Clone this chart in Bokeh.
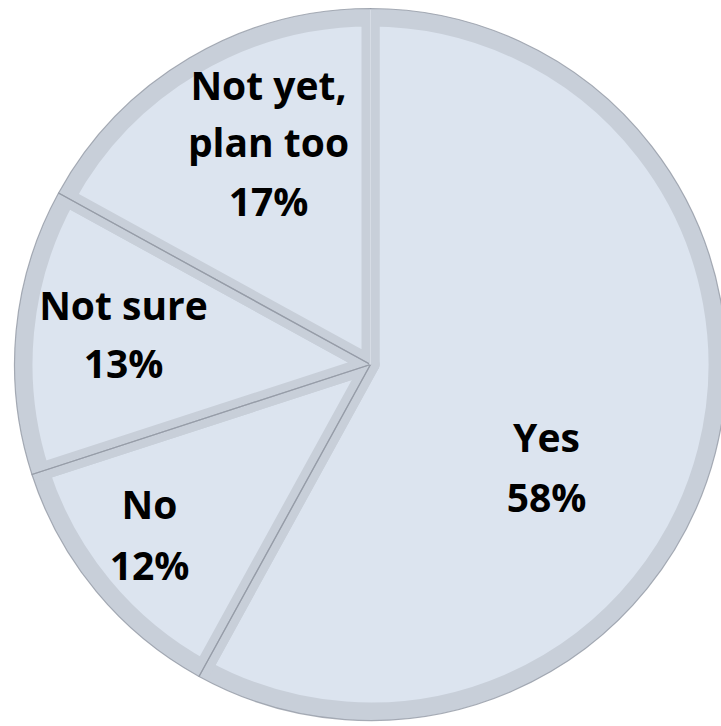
import math
from bokeh.plotting import figure
from bokeh.models import Range1d
from bokeh.core.properties import value
from bokeh.embed import file_html
from bokeh.resources import INLINE

# ---- data ----
categories = ["Yes", "No", "Not sure", "Not yet,|plan too"]
percents = [58, 12, 13, 17]

# ---- layout (pixels from top-left) ----
W, H = 721, 726
cx, cy_top = 370, 364
radius = 347
label_x = [546, 149, 123, 268]
label_baselines = [[436, 496], [503, 564], [304, 362], [84, 141, 200]]

fill_color = "#dce4ef"
border_color = "#c8cfd9"
edge_color = "#939aa5"

p = figure(width=W, height=H, x_range=Range1d(0, W), y_range=Range1d(0, H),
           output_backend="svg", toolbar_location=None, min_border=0)
p.axis.visible = False
p.grid.visible = False
p.outline_line_color = None
p.background_fill_color = "white"

cy = H - cy_top
total = float(sum(percents))
starts, ends = [], []
cum = 0.0
for v in percents:
    starts.append(math.pi / 2 - 2 * math.pi * cum / total)
    cum += v
    ends.append(math.pi / 2 - 2 * math.pi * cum / total)

p.wedge(x=[cx] * len(percents), y=[cy] * len(percents), radius=radius,
        start_angle=starts, end_angle=ends, direction="clock",
        fill_color=fill_color, line_color=border_color, line_width=18,
        line_join="round")
# thin dark edges on the boundaries and outer rim
p.wedge(x=[cx] * len(percents), y=[cy] * len(percents), radius=radius + 9,
        start_angle=starts, end_angle=ends, direction="clock",
        fill_color=None, line_color=edge_color, line_width=1.2, line_alpha=0.8,
        line_join="round")
# top boundary appears light in the reference
p.segment(x0=[cx], y0=[cy], x1=[cx], y1=[cy + radius + 8],
          line_color=border_color, line_width=3)
p.segment(x0=[cx], y0=[cy], x1=[cx], y1=[cy + radius + 8],
          line_color="#d6dce5", line_width=1)

for cat, pct, lx, bl in zip(categories, percents, label_x, label_baselines):
    lines = cat.split("|") + [f"{pct}%"]
    p.text(x=[lx] * len(lines), y=[H - b for b in bl], text=lines,
           text_align="center", text_baseline="alphabetic",
           text_font=value("Open Sans"), text_font_style="bold",
           text_font_size="39px", text_color="black")

open("out.html", "w").write(file_html(p, INLINE))
